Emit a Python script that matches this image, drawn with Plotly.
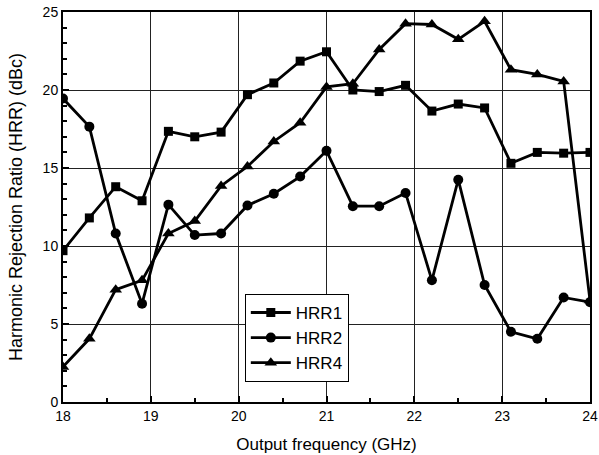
import plotly.graph_objects as go

freq = [18.0, 18.3, 18.6, 18.9, 19.2, 19.5, 19.8, 20.1, 20.4, 20.7, 21.0,
        21.3, 21.6, 21.9, 22.2, 22.5, 22.8, 23.1, 23.4, 23.7, 24.0]
hrr1 = [9.7, 11.8, 13.8, 12.9, 17.35, 17.0, 17.3, 19.7, 20.45, 21.85, 22.45,
        20.0, 19.9, 20.3, 18.65, 19.1, 18.85, 15.3, 16.0, 15.95, 16.0]
hrr2 = [19.45, 17.65, 10.8, 6.3, 12.65, 10.7, 10.8, 12.6, 13.35, 14.45, 16.1,
        12.55, 12.55, 13.4, 7.8, 14.25, 7.5, 4.5, 4.05, 6.7, 6.4]
hrr4 = [2.25, 4.05, 7.2, 7.8, 10.8, 11.6, 13.85, 15.1, 16.7, 17.9, 20.2,
        20.4, 22.6, 24.25, 24.2, 23.25, 24.4, 21.3, 21.0, 20.55, 6.5]

series = [("HRR1", hrr1, "square", 9), ("HRR2", hrr2, "circle", 10), ("HRR4", hrr4, "triangle-up", 11)]

fig = go.Figure()
for name, vals, sym, ms in series:
    fig.add_trace(go.Scatter(
        x=freq, y=vals, name=name, mode="lines+markers",
        line=dict(color="black", width=2.8),
        marker=dict(symbol=sym, size=ms, color="black"),
    ))

FONT = "Liberation Sans, Arial"
axis_common = dict(
    showline=True, linecolor="black", linewidth=2, mirror=True,
    ticks="inside", ticklen=6, tickwidth=1.5, tickcolor="black",
    showgrid=True, gridcolor="#222222", gridwidth=1,
    zeroline=False, automargin=False,
    tickfont=dict(family=FONT, size=14, color="black"),
)

fig.update_xaxes(
    range=[18, 24], dtick=1, tick0=18,
    minor=dict(ticks="inside", dtick=0.5, ticklen=4, tickcolor="black", showgrid=False),
    title=dict(text="Output frequency (GHz)", font=dict(family=FONT, size=17, color="black")),
    **axis_common,
)
fig.update_yaxes(
    range=[0, 25], dtick=5, tick0=0,
    minor=dict(ticks="inside", dtick=1, ticklen=4, tickcolor="black", showgrid=False),
    title=dict(text="Harmonic Rejection Ratio (HRR) (dBc)", font=dict(family=FONT, size=18, color="black")),
    **axis_common,
)

fig.update_layout(
    width=599, height=455,
    margin=dict(l=63, r=9, t=12, b=53),
    plot_bgcolor="white", paper_bgcolor="white",
    font=dict(family=FONT, color="black"),
    legend=dict(
        x=0.345, y=0.277, xanchor="left", yanchor="top",
        bgcolor="white", bordercolor="black", borderwidth=1,
        font=dict(family=FONT, size=17, color="black"),
        itemwidth=40, tracegroupgap=0,
    ),
    showlegend=True,
)

fig.write_html("out.html")
